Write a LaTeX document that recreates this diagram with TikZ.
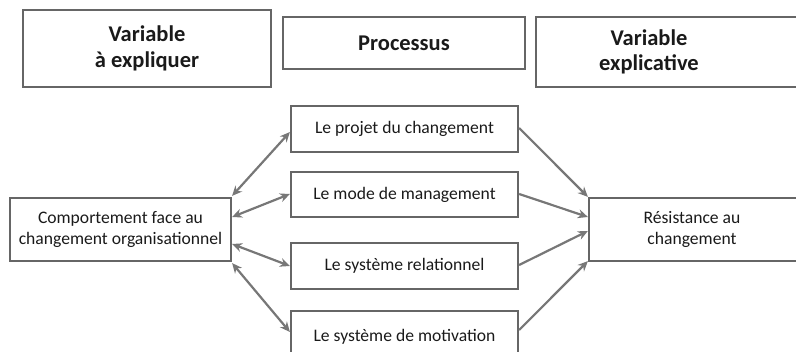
\documentclass[tikz,border=0pt]{standalone}
\usepackage{fontspec}
\setmainfont{Carlito}
\usetikzlibrary{arrows.meta,calc}
\definecolor{boxgray}{HTML}{666666}
\definecolor{arrgray}{HTML}{777777}
\definecolor{txt}{HTML}{1A1A1A}
\begin{document}
\begin{tikzpicture}[x=1pt,y=-1pt,
  box/.style={draw=boxgray,line width=2.2pt,rectangle,inner sep=0pt,text=txt,align=center,font=\fontsize{17.6}{21}\selectfont},
  hbox/.style={box,font=\bfseries\fontsize{22.5}{25.5}\selectfont},
  btext/.style={inner sep=0pt,text=txt,align=center,font=\fontsize{17.6}{21}\selectfont},
  htext/.style={inner sep=0pt,text=txt,align=center,font=\bfseries\fontsize{22.5}{25.5}\selectfont},
  link/.style={draw=arrgray,line width=2.2pt,-{Stealth[length=10pt,width=9pt]}},
  dlink/.style={draw=arrgray,line width=2.2pt,{Stealth[length=10pt,width=9pt]}-{Stealth[length=10pt,width=9pt]}}]
\useasboundingbox (0,0) rectangle (796,352);
\clip (0,0) rectangle (796,352);
% header boxes
\node[hbox,minimum width=248pt,minimum height=77pt] (hL) at (147,48.5) {Variable\\à expliquer};
\node[hbox,minimum width=242pt,minimum height=52pt] (hP) at (404,43) {Processus};
\node[hbox,minimum width=274pt,minimum height=70pt] (hR) at (673,52) {};
\node[htext] (hRt) at (649,52) {Variable\\explicative};
% process boxes
\node[box,minimum width=227pt,minimum height=46pt] (p1) at (404.5,129) {Le projet du changement};
\node[box,minimum width=227pt,minimum height=45pt] (p2) at (404.5,194.5) {Le mode de management};
\node[box,minimum width=227pt,minimum height=46pt] (p3) at (404.5,266) {Le système relationnel};
\node[box,minimum width=227pt,minimum height=52pt] (p4) at (404.5,337) {Le système de motivation};
% side boxes
\node[box,minimum width=221pt,minimum height=63pt] (L) at (120.5,229.5) {Comportement face au\\changement organisationnel};
\node[box,minimum width=225pt,minimum height=63pt] (R) at (701.5,229.5) {};
\node[btext] (Rt) at (692,229.5) {Résistance au\\changement};
% connectors left
\draw[dlink] ([yshift=1pt]L.north east) -- ([yshift=-3pt]p1.west);
\draw[dlink] ([yshift=12.5pt]L.east) -- ([yshift=0.5pt]p2.west);
\draw[dlink] ([yshift=-14.5pt]L.east) -- (p3.west);
\draw[dlink] ([yshift=-1pt]L.south east) -- ([yshift=5pt]p4.west);
% connectors right
\draw[link] ([yshift=1pt]p1.east) -- (R.north west);
\draw[link] ([yshift=0.5pt]p2.east) -- ([yshift=12.5pt]R.west);
\draw[link] ([yshift=1pt]p3.east) -- ([yshift=-1.5pt]R.west);
\draw[link] ([yshift=7pt]p4.east) -- ([yshift=1pt]R.south west);
\end{tikzpicture}
\end{document}
